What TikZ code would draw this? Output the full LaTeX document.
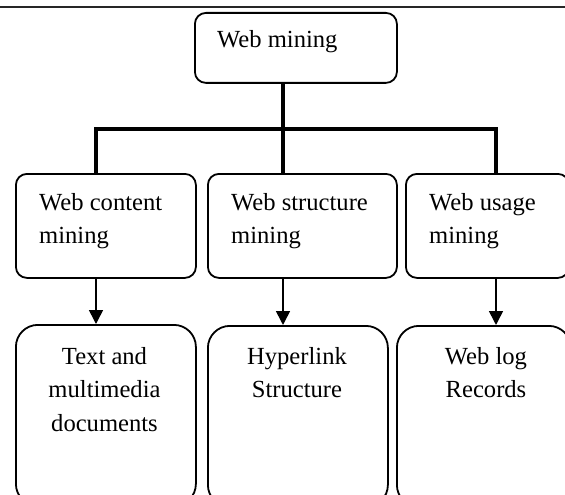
\documentclass[tikz,border=0pt]{standalone}
\usepackage{fontspec}
\setmainfont{Liberation Serif}
\usetikzlibrary{arrows.meta}
\begin{document}
\begin{tikzpicture}[x=1pt,y=-1pt,
  box/.style={draw=black, line width=1.8pt, rounded corners=11pt, inner sep=0pt, anchor=north west},
  bigbox/.style={draw=black, line width=1.8pt, rounded corners=22pt, inner sep=0pt, anchor=north west},
  txt/.style={inner sep=0pt, font=\fontsize{24.6}{33.5}\selectfont, text=black},
  bar/.style={draw=black, line width=4pt},
  arr/.style={draw=black, line width=1.6pt, -{Triangle[width=14pt,length=14pt]}},
  rule/.style={draw=black!85, line width=1.2pt}
]
\useasboundingbox (0,0) rectangle (565,495);
\clip (0,0) rectangle (565,495);
\fill[white] (0,0) rectangle (565,495);

% top rule
\coordinate (rl) at (0,7);
\coordinate (rr) at (565,7);
\draw[rule] (rl) -- (rr);

% boxes
\node[box, minimum width=202pt, minimum height=70pt] (top) at (194,12) {};
\node[box, minimum width=180pt, minimum height=104pt] (m1) at (15,173) {};
\node[box, minimum width=189pt, minimum height=104pt] (m2) at (207,173) {};
\node[box, minimum width=163pt, minimum height=104pt] (m3) at (405,173) {};
\node[bigbox, minimum width=180pt, minimum height=181pt] (b1) at (15,324) {};
\node[bigbox, minimum width=180pt, minimum height=181pt] (b2) at (207,325) {};
\node[bigbox, minimum width=174pt, minimum height=181pt] (b3) at (396,325) {};

% texts
\node[txt, anchor=base west] (toptext) at (217,48) {Web mining};
\node[txt, anchor=base west] (m1text) at (39,210) {\begin{tabular}[t]{@{}l@{}}Web content\\mining\end{tabular}};
\node[txt, anchor=base west] (m2text) at (231,210) {\begin{tabular}[t]{@{}l@{}}Web structure\\mining\end{tabular}};
\node[txt, anchor=base west] (m3text) at (429,210) {\begin{tabular}[t]{@{}l@{}}Web usage\\mining\end{tabular}};
\node[txt, anchor=base] (b1text) at (104.5,364) {\begin{tabular}[t]{@{}c@{}}Text and\\multimedia\\documents\end{tabular}};
\node[txt, anchor=base] (b2text) at (297,364) {\begin{tabular}[t]{@{}c@{}}Hyperlink\\Structure\end{tabular}};
\node[txt, anchor=base] (b3text) at (486,364) {\begin{tabular}[t]{@{}c@{}}Web log\\Records\end{tabular}};

% junctions
\coordinate (jm) at (283,129);
\coordinate (jl) at (96,129);
\coordinate (jr) at (496,129);

% tree connectors
\draw[bar] (top.south -| jm) -- (jm |- m2.north);
\draw[bar] (jl |- m1.north) -- (jl) -- (jr) -- (jr |- m3.north);

% arrows
\draw[arr] (m1.south -| jl) -- (b1.north -| jl);
\draw[arr] (m2.south -| jm) -- (b2.north -| jm);
\draw[arr] (m3.south -| jr) -- (b3.north -| jr);
\end{tikzpicture}
\end{document}
